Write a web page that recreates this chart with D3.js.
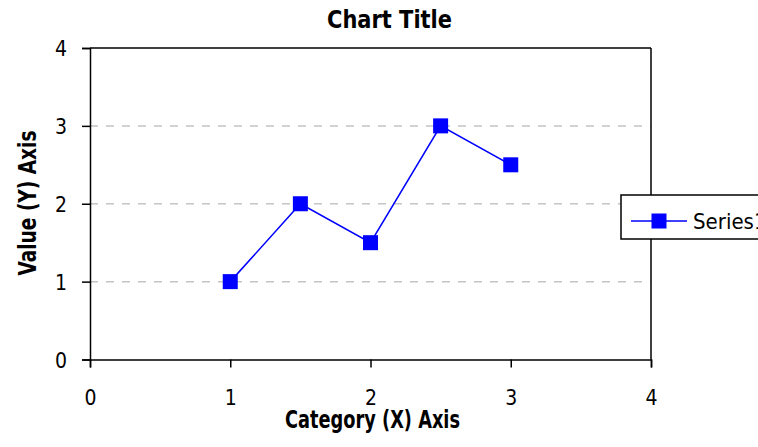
<!DOCTYPE html>
<html>
<head>
<meta charset="utf-8">
<script src="https://cdn.jsdelivr.net/npm/d3@7"></script>
<style>
  body { margin: 0; background: #fff; }
  svg { display: block; }
  .narrow { font-family: "Liberation Sans Narrow", "Arial Narrow", "DejaVu Sans Condensed", sans-serif; }
</style>
</head>
<body>
<div id="chart"></div>
<script>
// Werte
const xValues = [1, 1.5, 2, 2.5, 3];
const yValues = [1, 2, 1.5, 3, 2.5];
const xTicks = [0, 1, 2, 3, 4];
const yTicks = [0, 1, 2, 3, 4];
const gridValues = [1, 2, 3];
const seriesName = "Series1";
const chartTitle = "Chart Title";
const xTitle = "Category (X) Axis";
const yTitle = "Value (Y) Axis";

const width = 758;
const height = 447;

const svg = d3.select("#chart")
    .append("svg")
    .attr("width", width)
    .attr("height", height);

// Skalen
const x = d3.scaleLinear().domain([0, 4]).range([90, 651]);
const y = d3.scaleLinear().domain([0, 4]).range([359.5, 48]);

// Gitterlinien
svg.append("g")
    .selectAll("line")
    .data(gridValues)
    .join("line")
    .attr("x1", x(0))
    .attr("x2", x(4))
    .attr("y1", d => y(d))
    .attr("y2", d => y(d))
    .attr("stroke", "#c4c4c4")
    .attr("stroke-width", 1.5)
    .attr("stroke-dasharray", "8,8");

// Rahmen oben und rechts
svg.append("line")
    .attr("x1", x(0)).attr("x2", x(4))
    .attr("y1", y(4)).attr("y2", y(4))
    .attr("stroke", "#000").attr("stroke-width", 1.5);
svg.append("line")
    .attr("x1", x(4)).attr("x2", x(4))
    .attr("y1", y(4)).attr("y2", y(0))
    .attr("stroke", "#000").attr("stroke-width", 1.5);

// Achsen
const yAxis = svg.append("g")
    .attr("class", "narrow")
    .attr("transform", `translate(${x(0)},0)`)
    .call(d3.axisLeft(y).tickValues(yTicks).tickSize(8).tickPadding(15).tickFormat(d3.format("d")));

const xAxis = svg.append("g")
    .attr("class", "narrow")
    .attr("transform", `translate(0,${y(0)})`)
    .call(d3.axisBottom(x).tickValues(xTicks).tickSize(8).tickFormat(d3.format("d")));

[xAxis, yAxis].forEach(g => {
    g.select(".domain").attr("stroke", "#000").attr("stroke-width", 1.5);
    g.selectAll(".tick line").attr("stroke", "#000").attr("stroke-width", 1.5);
    g.selectAll(".tick text")
        .attr("fill", "#000")
        .attr("font-size", "21px")
        .attr("font-family", null);
});
yAxis.selectAll(".tick text").attr("dy", "0.36em");
xAxis.selectAll(".tick text").attr("y", 38).attr("dy", "0.36em");

// Linie
const line = d3.line()
    .x((d, i) => x(xValues[i]))
    .y(d => y(d));

svg.append("path")
    .datum(yValues)
    .attr("fill", "none")
    .attr("stroke", "#0000ff")
    .attr("stroke-width", 1.5)
    .attr("d", line);

// Marker
const ms = 15;
svg.append("g")
    .selectAll("rect")
    .data(yValues)
    .join("rect")
    .attr("x", (d, i) => x(xValues[i]) - ms / 2)
    .attr("y", d => y(d) - ms / 2)
    .attr("width", ms)
    .attr("height", ms)
    .attr("fill", "#0000ff");

// Titel
svg.append("text")
    .attr("class", "narrow")
    .attr("x", 389.5)
    .attr("y", 28)
    .attr("text-anchor", "middle")
    .attr("font-weight", "bold")
    .attr("font-size", "24px")
    .attr("textLength", 125)
    .attr("lengthAdjust", "spacingAndGlyphs")
    .text(chartTitle);

svg.append("text")
    .attr("class", "narrow")
    .attr("x", 372.5)
    .attr("y", 428)
    .attr("text-anchor", "middle")
    .attr("font-weight", "bold")
    .attr("font-size", "24px")
    .attr("textLength", 175)
    .attr("lengthAdjust", "spacingAndGlyphs")
    .text(xTitle);

svg.append("text")
    .attr("class", "narrow")
    .attr("transform", "translate(36,203) rotate(-90)")
    .attr("text-anchor", "middle")
    .attr("font-weight", "bold")
    .attr("font-size", "24px")
    .attr("textLength", 145)
    .attr("lengthAdjust", "spacingAndGlyphs")
    .text(yTitle);

// Legende
const legend = svg.append("g").attr("transform", "translate(621,195)");
legend.append("rect")
    .attr("x", 0).attr("y", 0)
    .attr("width", 160).attr("height", 44)
    .attr("fill", "#fff")
    .attr("stroke", "#000")
    .attr("stroke-width", 1.5);
legend.append("line")
    .attr("x1", 10).attr("x2", 66)
    .attr("y1", 26).attr("y2", 26)
    .attr("stroke", "#0000ff").attr("stroke-width", 1.5);
legend.append("rect")
    .attr("x", 38 - ms / 2).attr("y", 26 - ms / 2)
    .attr("width", ms).attr("height", ms)
    .attr("fill", "#0000ff");
legend.append("text")
    .attr("class", "narrow")
    .attr("x", 72)
    .attr("y", 26)
    .attr("dy", "0.36em")
    .attr("font-size", "22px")
    .attr("fill", "#000")
    .text(seriesName);
</script>
</body>
</html>
